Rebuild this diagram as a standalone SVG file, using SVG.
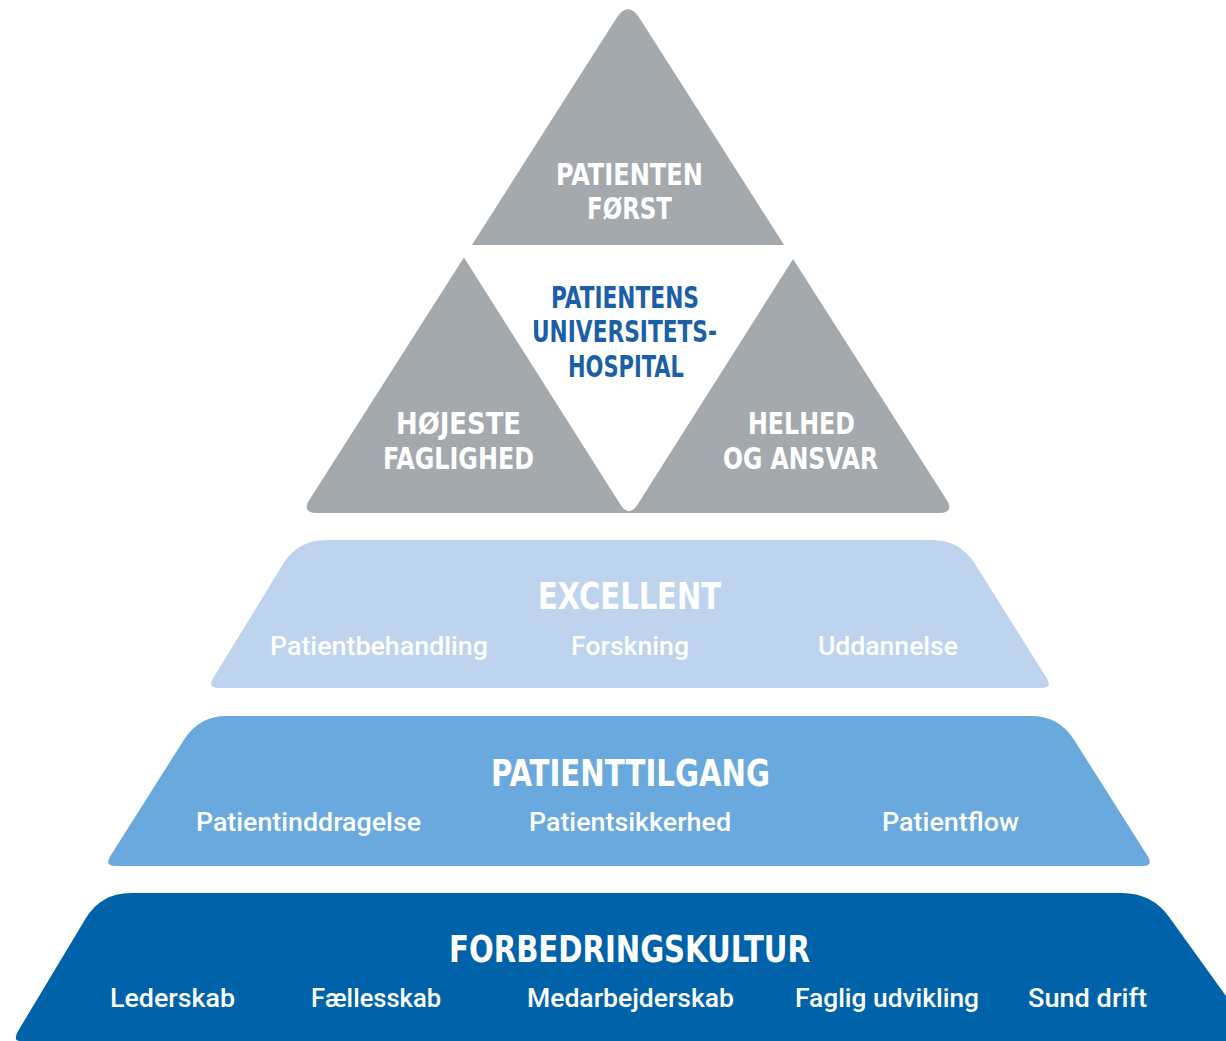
<svg xmlns="http://www.w3.org/2000/svg" width="1226" height="1041" viewBox="0 0 1226 1041">
<style>
.h{font-family:"DejaVu Sans Condensed","Liberation Sans Narrow","Liberation Sans",sans-serif;font-weight:bold;fill:#ffffff;text-anchor:middle}
.b{font-family:"DejaVu Sans Condensed","Liberation Sans Narrow","Liberation Sans",sans-serif;font-weight:bold;fill:#1b5fa7;text-anchor:middle;font-size:30px}
.s{font-family:"Roboto","Liberation Sans",sans-serif;font-weight:500;fill:#ffffff;text-anchor:middle;font-size:25px}
.t{font-size:30px}
.H{font-size:37px}
</style>
<rect width="1226" height="1041" fill="#ffffff"/>
<g id="triangle">
<path d="M616.2,18.6 Q628,0 639.8,18.6 L946.4,499.5 Q955,513 939,513 L317,513 Q301,513 309.6,499.5 Z" fill="#a4a9ae"/>
<path d="M472,245 L786,245 Q802,245 793.4,258.5 L637.6,504.5 Q629,518 620.4,504.5 L464.6,258.5 Q456,245 472,245 Z" fill="#ffffff"/>
<text class="h t" x="629.5" y="185" textLength="147" lengthAdjust="spacingAndGlyphs">PATIENTEN</text>
<text class="h t" x="629.5" y="219" textLength="85" lengthAdjust="spacingAndGlyphs">FØRST</text>
<text class="b" x="625" y="308" textLength="148" lengthAdjust="spacingAndGlyphs">PATIENTENS</text>
<text class="b" x="624.5" y="342" textLength="185" lengthAdjust="spacingAndGlyphs">UNIVERSITETS-</text>
<text class="b" x="626" y="377" textLength="116" lengthAdjust="spacingAndGlyphs">HOSPITAL</text>
<text class="h t" x="458.5" y="434" textLength="125" lengthAdjust="spacingAndGlyphs">HØJESTE</text>
<text class="h t" x="458.5" y="469" textLength="151" lengthAdjust="spacingAndGlyphs">FAGLIGHED</text>
<text class="h t" x="801.5" y="434" textLength="107" lengthAdjust="spacingAndGlyphs">HELHED</text>
<text class="h t" x="800.5" y="469" textLength="155" lengthAdjust="spacingAndGlyphs">OG ANSVAR</text>
</g>
<g id="excellent">
<path d="M326,540 L932,540 Q960,540 975,564 L1046.6,677.8 Q1053,688 1041,688 L219,688 Q207,688 213.4,677.8 L283,564 Q298,540 326,540 Z" fill="#bdd3ee"/>
<text class="h H" x="629.5" y="609" textLength="183" lengthAdjust="spacingAndGlyphs">EXCELLENT</text>
<text class="s" x="379" y="655" textLength="218" lengthAdjust="spacingAndGlyphs">Patientbehandling</text>
<text class="s" x="630" y="655" textLength="118" lengthAdjust="spacingAndGlyphs">Forskning</text>
<text class="s" x="888" y="655" textLength="140" lengthAdjust="spacingAndGlyphs">Uddannelse</text>
</g>
<g id="patienttilgang">
<path d="M227,716 L1031,716 Q1059,716 1074,739.7 L1147.6,855.9 Q1154,866 1142,866 L116,866 Q104,866 110.4,855.9 L184,739.7 Q199,716 227,716 Z" fill="#69a9dd"/>
<text class="h H" x="630.5" y="786" textLength="279" lengthAdjust="spacingAndGlyphs">PATIENTTILGANG</text>
<text class="s" x="308.5" y="831" textLength="225" lengthAdjust="spacingAndGlyphs">Patientinddragelse</text>
<text class="s" x="630" y="831" textLength="202" lengthAdjust="spacingAndGlyphs">Patientsikkerhed</text>
<text class="s" x="950.5" y="831" textLength="137" lengthAdjust="spacingAndGlyphs">Patientflow</text>
</g>
<g id="forbedringskultur">
<path d="M131,893 L1122,893 Q1152,893 1169.5,917.4 L1262,1046 L1262,1050 L20,1050 L20,1041 Q12,1041 19.3,1029 L85.5,918.7 Q101,893 131,893 Z" fill="#0063a9"/>
<text class="h H" x="629.5" y="962" textLength="361" lengthAdjust="spacingAndGlyphs">FORBEDRINGSKULTUR</text>
<text class="s" x="172.5" y="1007" textLength="125" lengthAdjust="spacingAndGlyphs">Lederskab</text>
<text class="s" x="376" y="1007" textLength="130" lengthAdjust="spacingAndGlyphs">Fællesskab</text>
<text class="s" x="630.5" y="1007" textLength="207" lengthAdjust="spacingAndGlyphs">Medarbejderskab</text>
<text class="s" x="887" y="1007" textLength="184" lengthAdjust="spacingAndGlyphs">Faglig udvikling</text>
<text class="s" x="1087.5" y="1007" textLength="119" lengthAdjust="spacingAndGlyphs">Sund drift</text>
</g>
<g id="connectors"/>
</svg>
